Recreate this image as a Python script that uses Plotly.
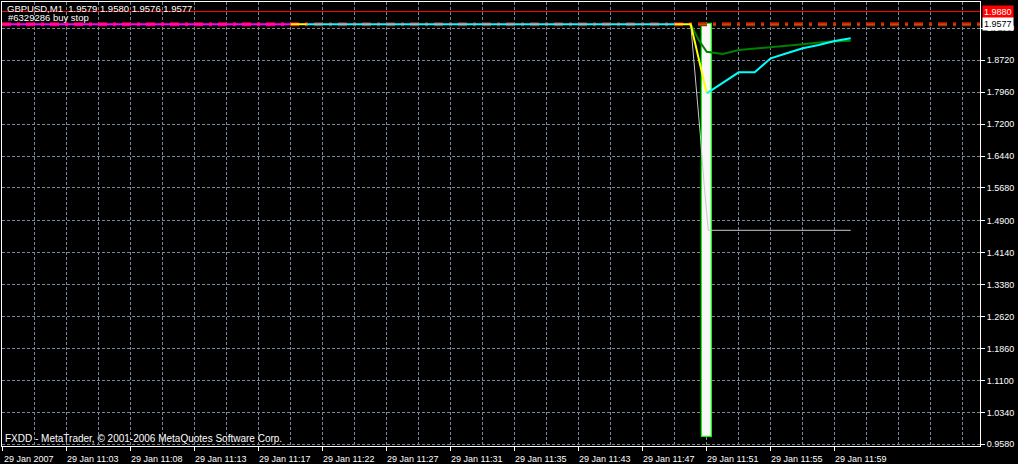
import plotly.graph_objects as go

# ---------------- data ----------------
X_RANGE = [-0.09, 122.16]
Y_RANGE = [0.954, 2.0106]

x_tick_pos = [0, 8, 16, 24, 32, 40, 48, 56, 64, 72, 80, 88, 96, 104]
x_tick_labels = ["29 Jan 2007", "29 Jan 11:03", "29 Jan 11:08", "29 Jan 11:13",
                 "29 Jan 11:17", "29 Jan 11:22", "29 Jan 11:27", "29 Jan 11:31",
                 "29 Jan 11:35", "29 Jan 11:43", "29 Jan 11:47", "29 Jan 11:51",
                 "29 Jan 11:55", "29 Jan 11:59"]
y_ticks = [1.9480, 1.8720, 1.7960, 1.7200, 1.6440, 1.5680, 1.4900,
           1.4140, 1.3380, 1.2620, 1.1860, 1.1100, 1.0340, 0.9580]

BID = 1.9577
BUY_STOP = 1.9880

magenta_x = [0, 36]
magenta_y = [1.9577, 1.9577]
yellow1_x = [36, 38]
yellow1_y = [1.9577, 1.9577]
cyan1_x = [38, 84]
cyan1_y = [1.9577, 1.9577]
yellow2_x = [84, 86, 88]
yellow2_y = [1.9577, 1.9577, 1.7933]
cyan2_x = [88, 92, 94, 96, 98, 100, 102, 104, 106]
cyan2_y = [1.7933, 1.8433, 1.8433, 1.8766, 1.8885, 1.9004, 1.9083, 1.9178, 1.9242]
green_x = [86, 87, 88, 89, 90, 92, 96, 100, 103, 106]
green_y = [1.9577, 1.9200, 1.8923, 1.8890, 1.8868, 1.8964, 1.9028, 1.9099, 1.9161, 1.9185]
gray_x = [86, 86.8, 87.2, 87.7, 88.0, 88.2, 106]
gray_y = [1.9577, 1.7933, 1.6941, 1.5710, 1.5115, 1.4673, 1.4673]

candle_x = [88]
candle_open = [0.976]
candle_close = [1.9577]

FONT = "Liberation Sans, Arial, sans-serif"
GRID = "#778899"
ORDER_DASH = "9px,6px,3px,6px"

fig = go.Figure()

# order lines
fig.add_trace(go.Scatter(x=X_RANGE, y=[BID, BID], mode="lines",
                         line=dict(color="#FF0000", width=4, dash=ORDER_DASH),
                         hoverinfo="skip"))
fig.add_trace(go.Scatter(x=X_RANGE, y=[BID, BID], mode="lines",
                         line=dict(color="#00C000", width=1.2, dash=ORDER_DASH),
                         hoverinfo="skip"))
fig.add_trace(go.Scatter(x=X_RANGE, y=[BUY_STOP, BUY_STOP], mode="lines",
                         line=dict(color="#FF0000", width=1.2), hoverinfo="skip"))

# big candle
fig.add_trace(go.Bar(x=candle_x,
                     y=[c - o for o, c in zip(candle_open, candle_close)],
                     base=candle_open, width=1.2,
                     marker=dict(color="#F8F8F8", line=dict(color="#00FF00", width=1.2))))

# indicator lines
fig.add_trace(go.Scatter(x=green_x, y=green_y, mode="lines",
                         line=dict(color="#008000", width=2)))
fig.add_trace(go.Scatter(x=gray_x, y=gray_y, mode="lines",
                         line=dict(color="#C8C8C8", width=1, shape="linear")))
fig.add_trace(go.Scatter(x=magenta_x, y=magenta_y, mode="lines",
                         line=dict(color="#FF00FF", width=2)))
fig.add_trace(go.Scatter(x=yellow1_x, y=yellow1_y, mode="lines",
                         line=dict(color="#FFFF00", width=2)))
fig.add_trace(go.Scatter(x=cyan1_x, y=cyan1_y, mode="lines",
                         line=dict(color="#00FFFF", width=2)))
fig.add_trace(go.Scatter(x=yellow2_x, y=yellow2_y, mode="lines",
                         line=dict(color="#FFFF00", width=2)))
fig.add_trace(go.Scatter(x=cyan2_x, y=cyan2_y, mode="lines",
                         line=dict(color="#00FFFF", width=2)))

fig.update_layout(
    width=1018, height=464, autosize=False,
    margin=dict(l=2, r=38, t=2, b=18),
    paper_bgcolor="black", plot_bgcolor="black",
    showlegend=False, bargap=0,
    font=dict(family=FONT, size=9, color="white"),
    xaxis=dict(range=X_RANGE, tickmode="array", tickvals=x_tick_pos, ticktext=x_tick_labels,
               showgrid=True, gridcolor=GRID, griddash="3px,2px", gridwidth=1,
               minor=dict(dtick=4, tick0=0, showgrid=True, gridcolor=GRID,
                          griddash="3px,2px", gridwidth=1),
               ticks="outside", ticklen=4, tickcolor="white",
               ticklabelshift=26, tickfont=dict(family=FONT, size=9, color="white"),
               showline=True, linecolor="white", linewidth=1, mirror=True,
               zeroline=False, fixedrange=True, automargin=False),
    yaxis=dict(range=Y_RANGE, side="right", tickmode="array", tickvals=y_ticks,
               ticktext=[f"{v:.4f}" for v in y_ticks],
               showgrid=True, gridcolor=GRID, griddash="3px,2px", gridwidth=1,
               ticks="outside", ticklen=4, tickcolor="white",
               tickfont=dict(family=FONT, size=9, color="white"),
               showline=True, linecolor="white", linewidth=1, mirror=True,
               zeroline=False, fixedrange=True, automargin=False),
)

fig.add_annotation(text="GBPUSD,M1  1.9579 1.9580 1.9576 1.9577", xref="paper", yref="paper",
                   x=0, y=0.9854, xanchor="left", yanchor="middle", xshift=3, showarrow=False,
                   font=dict(family=FONT, size=9.5, color="white"))
fig.add_annotation(text="#6329286 buy stop", xref="paper", yref="paper",
                   x=0, y=0.9651, xanchor="left", yanchor="middle", xshift=4, showarrow=False,
                   font=dict(family=FONT, size=9.5, color="white"))
fig.add_annotation(text="FXDD - MetaTrader, © 2001-2006 MetaQuotes Software Corp.",
                   xref="paper", yref="paper", x=0, y=0.018, xanchor="left", yanchor="middle",
                   xshift=1, showarrow=False, font=dict(family=FONT, size=10, color="white"))
fig.add_annotation(text=f"{BUY_STOP:.4f}", xref="paper", yref="y", x=1, y=BUY_STOP,
                   xanchor="left", yanchor="middle", xshift=2, showarrow=False,
                   bgcolor="#FF0000", borderpad=1,
                   font=dict(family=FONT, size=9, color="white"))
fig.add_annotation(text=f"{BID:.4f}", xref="paper", yref="y", x=1, y=BID,
                   xanchor="left", yanchor="middle", xshift=2, showarrow=False,
                   bgcolor="white", borderpad=1,
                   font=dict(family=FONT, size=9, color="black"))

fig.write_html("out.html", config={"displayModeBar": False},
               post_script="document.body.style.margin='0px';document.body.style.overflow='hidden';")
